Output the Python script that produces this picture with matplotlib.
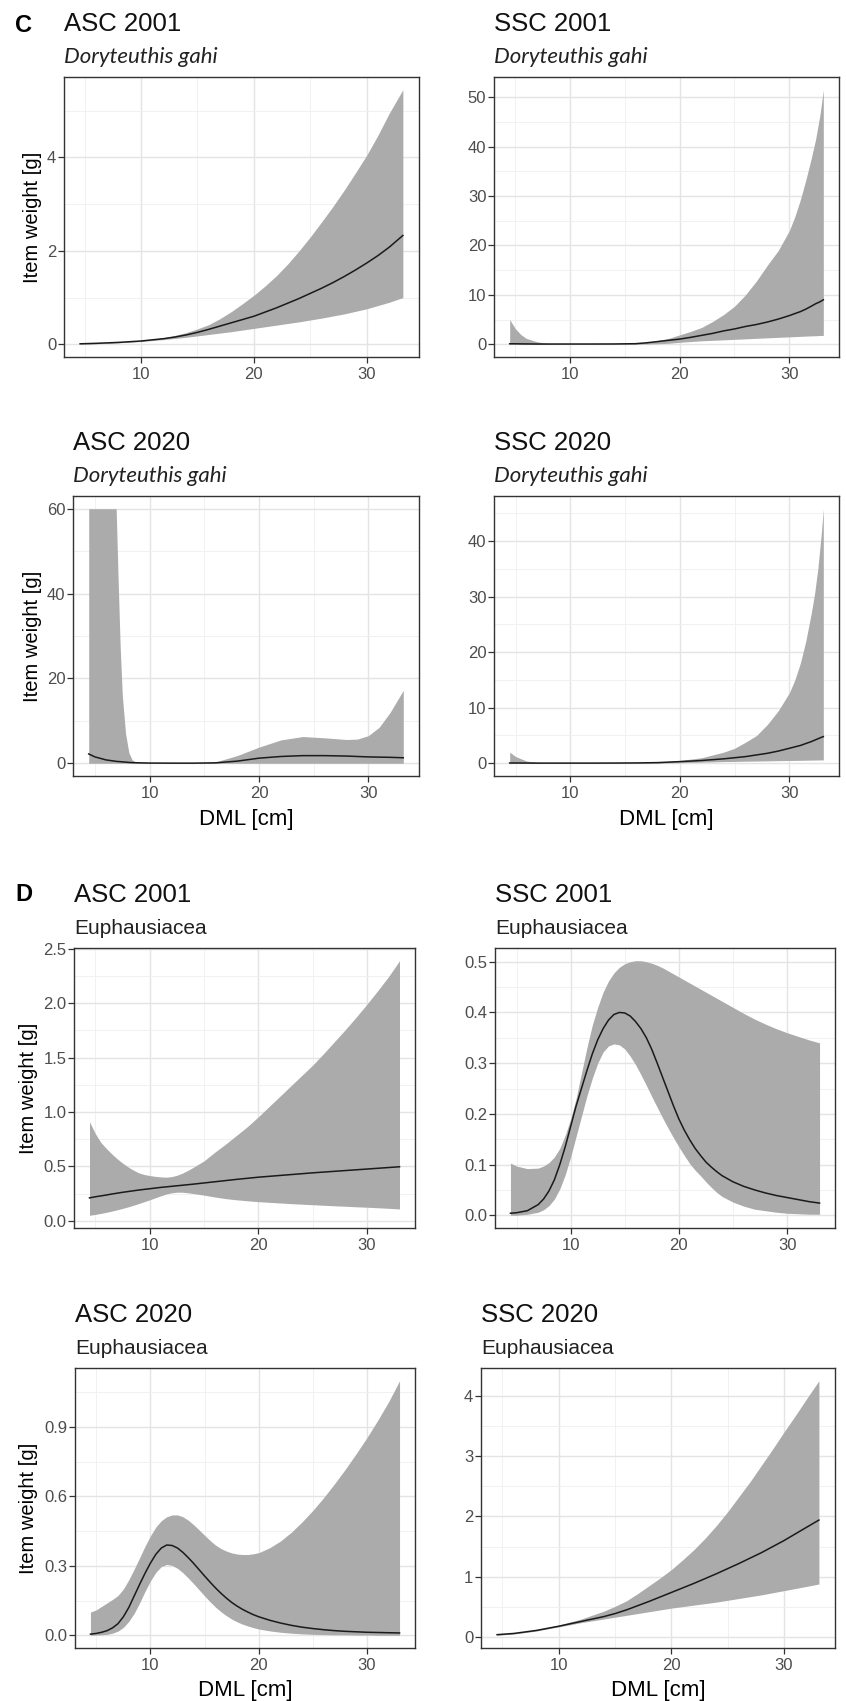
import matplotlib
matplotlib.use("Agg")
import matplotlib.pyplot as plt
import numpy as np
from matplotlib.ticker import MultipleLocator, AutoMinorLocator, FormatStrFormatter

# ---- values (DML in cm, item weight in g) ----
# C: Doryteuthis gahi, ASC 2001
c_asc01_x = [4.6, 6, 8, 10, 12, 13, 14, 15, 16, 17, 18, 19, 20, 21, 22, 23, 24, 25, 26, 27, 28, 29, 30, 31,
             32, 33.2]
c_asc01_fit = [0.01, 0.02, 0.04, 0.07, 0.12, 0.155, 0.2, 0.255, 0.32, 0.39, 0.46, 0.53, 0.6, 0.69, 0.78, 0.88,
               0.98, 1.09, 1.2, 1.32, 1.45, 1.59, 1.74, 1.9, 2.08, 2.33]
c_asc01_lo = [0.0, 0.01, 0.03, 0.06, 0.1, 0.125, 0.15, 0.18, 0.21, 0.24, 0.27, 0.305, 0.34, 0.375, 0.41, 0.445,
              0.48, 0.52, 0.56, 0.605, 0.65, 0.705, 0.76, 0.83, 0.9, 1.0]
c_asc01_hi = [0.01, 0.02, 0.05, 0.08, 0.14, 0.19, 0.25, 0.33, 0.42, 0.55, 0.7, 0.87, 1.05, 1.25, 1.47, 1.72,
              2.0, 2.3, 2.62, 2.95, 3.3, 3.67, 4.05, 4.48, 4.95, 5.45]

# C: Doryteuthis gahi, SSC 2001
c_ssc01_x = [4.5, 5, 5.5, 6, 7, 8, 10, 12, 14, 16, 17, 18, 19, 20, 21, 22, 23, 24, 25, 26, 27, 28, 29, 30,
             30.5, 31, 31.5, 32, 32.4, 32.8, 33.1]
c_ssc01_fit = [0.1, 0.1, 0.08, 0.07, 0.05, 0.05, 0.05, 0.05, 0.06, 0.12, 0.3, 0.55, 0.8, 1.05, 1.4, 1.8, 2.2,
               2.7, 3.1, 3.6, 4.0, 4.5, 5.1, 5.8, 6.2, 6.6, 7.1, 7.7, 8.2, 8.6, 9.0]
c_ssc01_lo = [0, 0, 0, 0, 0, 0, 0, 0, 0, 0, 0.05, 0.1, 0.2, 0.4, 0.55, 0.7, 0.8, 0.9, 1.0, 1.1, 1.2, 1.3, 1.4,
              1.5, 1.55, 1.6, 1.65, 1.7, 1.73, 1.77, 1.8]
c_ssc01_hi = [5.0, 3.2, 2.0, 1.2, 0.5, 0.15, 0.05, 0.05, 0.08, 0.2, 0.4, 0.75, 1.2, 1.9, 2.6, 3.4, 4.6, 6.0,
              7.7, 10.0, 12.8, 16.0, 19.0, 23.0, 25.8, 29.2, 33.2, 37.6, 41.5, 46.5, 51.5]

# C: Doryteuthis gahi, ASC 2020
c_asc20_x = [4.43, 5, 6, 6.94, 7.1, 7.3, 7.5, 7.8, 8.1, 8.4, 8.8, 10, 12, 14, 16, 18, 20, 22, 24, 26, 28, 29,
             30, 31, 32, 33.2]
c_asc20_fit = [2.2, 1.5, 0.8, 0.45, 0.42, 0.38, 0.33, 0.27, 0.2, 0.16, 0.12, 0.05, 0.03, 0.03, 0.1, 0.5, 1.2,
               1.6, 1.8, 1.8, 1.7, 1.6, 1.5, 1.45, 1.4, 1.3]
c_asc20_lo = [0] * 26
c_asc20_hi = [60, 60, 60, 60, 45, 28, 16, 7, 2.5, 0.8, 0.2, 0.1, 0.05, 0.05, 0.3, 1.8, 3.8, 5.5, 6.3, 6.0,
              5.6, 5.7, 6.5, 8.5, 12.0, 17.2]

# C: Doryteuthis gahi, SSC 2020
c_ssc20_x = [4.45, 5, 6, 7, 8, 10, 12, 14, 16, 18, 20, 22, 24, 25, 26, 27, 28, 29, 30, 30.5, 31, 31.5, 32,
             32.3, 32.6, 32.9, 33.1]
c_ssc20_fit = [0.05, 0.05, 0.04, 0.03, 0.03, 0.03, 0.03, 0.04, 0.06, 0.12, 0.3, 0.5, 0.8, 1.0, 1.2, 1.5, 1.8,
               2.2, 2.7, 2.95, 3.2, 3.55, 3.9, 4.15, 4.4, 4.65, 4.8]
c_ssc20_lo = [0, 0, 0, 0, 0, 0, 0, 0, 0, 0.02, 0.1, 0.2, 0.3, 0.33, 0.37, 0.4, 0.43, 0.47, 0.5, 0.52, 0.53,
              0.55, 0.57, 0.58, 0.59, 0.6, 0.6]
c_ssc20_hi = [2.0, 1.2, 0.4, 0.15, 0.08, 0.05, 0.05, 0.06, 0.1, 0.2, 0.5, 1.0, 2.0, 2.7, 3.8, 5.0, 7.0, 9.5,
              12.7, 15.0, 18.0, 22.0, 27.0, 30.5, 35.0, 41.0, 45.8]

# D: Euphausiacea, ASC 2001
d_asc01_x = [4.46, 5, 5.5, 6, 6.5, 7, 7.5, 8, 8.5, 9, 9.5, 10, 10.5, 11, 11.5, 12, 12.5, 13, 13.5, 14, 15,
             16, 17, 18, 19, 20, 21, 22, 23, 24, 25, 26, 27, 28, 29, 30, 31, 32, 33]
d_asc01_fit = [0.21, 0.22, 0.228, 0.236, 0.245, 0.253, 0.261, 0.268, 0.275, 0.282, 0.288, 0.294, 0.3, 0.306,
               0.311, 0.316, 0.321, 0.326, 0.331, 0.336, 0.347, 0.358, 0.369, 0.38, 0.39, 0.4, 0.408, 0.416,
               0.424, 0.432, 0.44, 0.447, 0.454, 0.461, 0.468, 0.475, 0.482, 0.489, 0.496]
d_asc01_lo = [0.05, 0.058, 0.067, 0.077, 0.088, 0.1, 0.113, 0.127, 0.142, 0.158, 0.175, 0.192, 0.21, 0.228,
              0.245, 0.256, 0.262, 0.262, 0.257, 0.25, 0.235, 0.218, 0.203, 0.192, 0.183, 0.175, 0.169,
              0.163, 0.157, 0.152, 0.147, 0.142, 0.137, 0.133, 0.128, 0.124, 0.119, 0.114, 0.108]
d_asc01_hi = [0.91, 0.8, 0.72, 0.665, 0.615, 0.57, 0.53, 0.495, 0.465, 0.44, 0.425, 0.415, 0.408, 0.403, 0.4,
              0.405, 0.417, 0.437, 0.462, 0.49, 0.55, 0.63, 0.705, 0.785, 0.865, 0.955, 1.05, 1.145, 1.24,
              1.335, 1.43, 1.535, 1.645, 1.755, 1.87, 1.99, 2.115, 2.245, 2.39]

# D: Euphausiacea, SSC 2001
d_ssc01_x = [4.44, 5, 6, 7, 7.5, 8, 8.5, 9, 9.5, 10, 10.5, 11, 11.5, 12, 12.5, 13, 13.5, 14, 14.5, 15, 15.5,
             16, 16.5, 17, 17.5, 18, 18.5, 19, 19.5, 20, 20.5, 21, 21.5, 22, 22.5, 23, 23.5, 24, 25, 26,
             27, 28, 29, 30, 31, 32, 33]
d_ssc01_fit = [0.004, 0.005, 0.009, 0.021, 0.032, 0.048, 0.07, 0.1, 0.135, 0.175, 0.215, 0.25, 0.285, 0.318,
               0.346, 0.368, 0.385, 0.396, 0.4, 0.399, 0.393, 0.382, 0.368, 0.35, 0.327, 0.3, 0.272, 0.244,
               0.216, 0.19, 0.168, 0.149, 0.132, 0.118, 0.105, 0.095, 0.086, 0.078, 0.066, 0.057, 0.05,
               0.044, 0.039, 0.035, 0.031, 0.027, 0.024]
d_ssc01_lo = [0.0, 0.0, 0.002, 0.006, 0.011, 0.019, 0.032, 0.052, 0.08, 0.115, 0.155, 0.195, 0.235, 0.27,
              0.3, 0.322, 0.334, 0.338, 0.336, 0.328, 0.314, 0.297, 0.277, 0.256, 0.234, 0.213, 0.192,
              0.172, 0.153, 0.135, 0.118, 0.102, 0.089, 0.078, 0.066, 0.055, 0.045, 0.037, 0.026, 0.018,
              0.012, 0.009, 0.006, 0.004, 0.003, 0.002, 0.002]
d_ssc01_hi = [0.103, 0.097, 0.092, 0.093, 0.097, 0.104, 0.115, 0.132, 0.158, 0.19, 0.23, 0.28, 0.33, 0.375,
              0.41, 0.44, 0.462, 0.478, 0.489, 0.496, 0.5, 0.502, 0.502, 0.5, 0.497, 0.493, 0.488, 0.482,
              0.476, 0.47, 0.464, 0.458, 0.452, 0.446, 0.44, 0.434, 0.428, 0.422, 0.41, 0.398, 0.387,
              0.377, 0.368, 0.36, 0.353, 0.346, 0.34]

# D: Euphausiacea, ASC 2020
d_asc20_x = [4.46, 5, 5.5, 6, 6.5, 7, 7.5, 8, 8.5, 9, 9.5, 10, 10.5, 11, 11.5, 12, 12.5, 13, 13.5, 14, 14.5,
             15, 15.5, 16, 16.5, 17, 17.5, 18, 18.5, 19, 19.5, 20, 21, 22, 23, 24, 25, 26, 27, 28, 29, 30,
             31, 32, 33]
d_asc20_fit = [0.005, 0.008, 0.013, 0.02, 0.032, 0.05, 0.08, 0.12, 0.17, 0.22, 0.268, 0.312, 0.35, 0.377,
               0.39, 0.388, 0.377, 0.358, 0.335, 0.31, 0.283, 0.256, 0.23, 0.205, 0.182, 0.161, 0.142,
               0.126, 0.112, 0.1, 0.089, 0.08, 0.065, 0.053, 0.043, 0.035, 0.029, 0.024, 0.02, 0.017,
               0.015, 0.013, 0.012, 0.011, 0.01]
d_asc20_lo = [0.0, 0.001, 0.002, 0.004, 0.009, 0.018, 0.034, 0.06, 0.095, 0.14, 0.19, 0.235, 0.272, 0.297,
              0.306, 0.302, 0.289, 0.27, 0.247, 0.222, 0.196, 0.17, 0.145, 0.122, 0.102, 0.085, 0.07,
              0.058, 0.048, 0.04, 0.033, 0.027, 0.019, 0.013, 0.009, 0.006, 0.004, 0.003, 0.002, 0.002,
              0.001, 0.001, 0.0, 0.0, 0.0]
d_asc20_hi = [0.1, 0.11, 0.125, 0.14, 0.155, 0.172, 0.2, 0.24, 0.286, 0.335, 0.385, 0.43, 0.468, 0.495,
              0.512, 0.52, 0.52, 0.512, 0.497, 0.477, 0.455, 0.432, 0.41, 0.39, 0.375, 0.364, 0.356,
              0.351, 0.349, 0.349, 0.352, 0.357, 0.378, 0.407, 0.445, 0.49, 0.54, 0.595, 0.655, 0.718,
              0.785, 0.855, 0.93, 1.01, 1.1]

# D: Euphausiacea, SSC 2020
d_ssc20_x = [4.52, 6, 8, 10, 12, 14, 15, 16, 17, 18, 19, 20, 21, 22, 23, 24, 25, 26, 27, 28, 29, 30, 31, 32,
             33.1]
d_ssc20_fit = [0.04, 0.06, 0.11, 0.18, 0.26, 0.34, 0.39, 0.45, 0.52, 0.59, 0.665, 0.74, 0.815, 0.89, 0.97,
               1.05, 1.135, 1.22, 1.31, 1.4, 1.5, 1.6, 1.71, 1.82, 1.94]
d_ssc20_lo = [0.03, 0.05, 0.1, 0.17, 0.24, 0.3, 0.33, 0.36, 0.39, 0.42, 0.45, 0.48, 0.505, 0.53, 0.555, 0.58,
              0.61, 0.64, 0.67, 0.7, 0.735, 0.77, 0.805, 0.84, 0.88]
d_ssc20_hi = [0.05, 0.07, 0.12, 0.2, 0.3, 0.43, 0.51, 0.6, 0.72, 0.85, 0.98, 1.12, 1.28, 1.45, 1.64, 1.85,
              2.08, 2.33, 2.58, 2.85, 3.12, 3.4, 3.67, 3.95, 4.25]

titles = ["ASC 2001", "SSC 2001", "ASC 2020", "SSC 2020"]
sub_c = "Doryteuthis gahi"
sub_d = "Euphausiacea"
ylab = "Item weight [g]"
xlab = "DML [cm]"

SANS = ["Liberation Sans", "DejaVu Sans"]
plt.rcParams["font.family"] = SANS

W, H = 846, 1701
fig = plt.figure(figsize=(W / 100, H / 100), dpi=100)


def fpos(x, y):
    # pixel position (from top-left) -> figure fraction
    return x / W, 1 - y / H


def panel(box, x, fit, lo, hi, ystep, title, sub, italic, fmt=None):
    l, t, r, b = box
    ax = fig.add_axes([l / W, 1 - b / H, (r - l) / W, (b - t) / H])
    x = np.asarray(x)
    ax.fill_between(x, lo, hi, color="#ababab", lw=0)
    ax.plot(x, fit, color="#1a1a1a", lw=1.1)

    xr = x.max() - x.min()
    ax.set_xlim(x.min() - 0.05 * xr, x.max() + 0.05 * xr)
    ymin, ymax = min(lo), max(hi)
    yr = ymax - ymin
    ax.set_ylim(ymin - 0.05 * yr, ymax + 0.05 * yr)

    ax.xaxis.set_major_locator(MultipleLocator(10))
    ax.xaxis.set_minor_locator(AutoMinorLocator(2))
    ax.yaxis.set_major_locator(MultipleLocator(ystep))
    ax.yaxis.set_minor_locator(AutoMinorLocator(2))
    if fmt:
        ax.yaxis.set_major_formatter(FormatStrFormatter(fmt))

    ax.set_axisbelow(True)
    ax.grid(which="major", color="#e4e4e4", lw=1.0)
    ax.grid(which="minor", color="#efefef", lw=0.6)
    for s in ax.spines.values():
        s.set_color("#333333")
        s.set_linewidth(1.0)
    ax.tick_params(which="major", length=4, width=0.9, color="#333333",
                   labelcolor="#4d4d4d", labelsize=12)
    ax.tick_params(axis="x", pad=3)
    ax.tick_params(axis="y", pad=1.5)
    ax.tick_params(which="minor", length=0)

    fig.text(*fpos(l, t - 46), title, fontsize=18.5, color="#111111",
             ha="left", va="baseline")
    if italic:
        fig.text(*fpos(l, t - 14), sub, fontsize=16, style="italic",
                 family=["Lato", "DejaVu Sans"], color="#222222",
                 ha="left", va="baseline")
    else:
        fig.text(*fpos(l, t - 14), sub, fontsize=15, color="#222222",
                 ha="left", va="baseline")
    return ax


panel((64, 77, 419, 357), c_asc01_x, c_asc01_fit, c_asc01_lo, c_asc01_hi, 2, titles[0], sub_c, True)
panel((494, 77, 839, 357), c_ssc01_x, c_ssc01_fit, c_ssc01_lo, c_ssc01_hi, 10, titles[1], sub_c, True)
panel((73, 496, 419, 776), c_asc20_x, c_asc20_fit, c_asc20_lo, c_asc20_hi, 20, titles[2], sub_c, True)
panel((494, 496, 839, 776), c_ssc20_x, c_ssc20_fit, c_ssc20_lo, c_ssc20_hi, 10, titles[3], sub_c, True)
panel((74, 948, 415, 1228), d_asc01_x, d_asc01_fit, d_asc01_lo, d_asc01_hi, 0.5, titles[0], sub_d, False, "%.1f")
panel((495, 948, 835, 1228), d_ssc01_x, d_ssc01_fit, d_ssc01_lo, d_ssc01_hi, 0.1, titles[1], sub_d, False, "%.1f")
panel((75, 1368, 415, 1648), d_asc20_x, d_asc20_fit, d_asc20_lo, d_asc20_hi, 0.3, titles[2], sub_d, False, "%.1f")
panel((481, 1368, 835, 1648), d_ssc20_x, d_ssc20_fit, d_ssc20_lo, d_ssc20_hi, 1, titles[3], sub_d, False)

# panel letters
fig.text(*fpos(15, 32), "C", fontsize=17, fontweight="bold", ha="left", va="baseline")
fig.text(*fpos(15, 901), "D", fontsize=17, fontweight="bold", ha="left", va="baseline")

# axis titles
for (lx, ly) in [(32, 217), (32, 636), (28, 1088), (28, 1508)]:
    fig.text(*fpos(lx, ly), ylab, fontsize=14.5, rotation=90, ha="center", va="center")
for (lx, ly) in [(246, 819), (666, 819), (245, 1690), (658, 1690)]:
    fig.text(*fpos(lx, ly), xlab, fontsize=16, ha="center", va="center")

fig.savefig("out.png", dpi=100, facecolor="white")
